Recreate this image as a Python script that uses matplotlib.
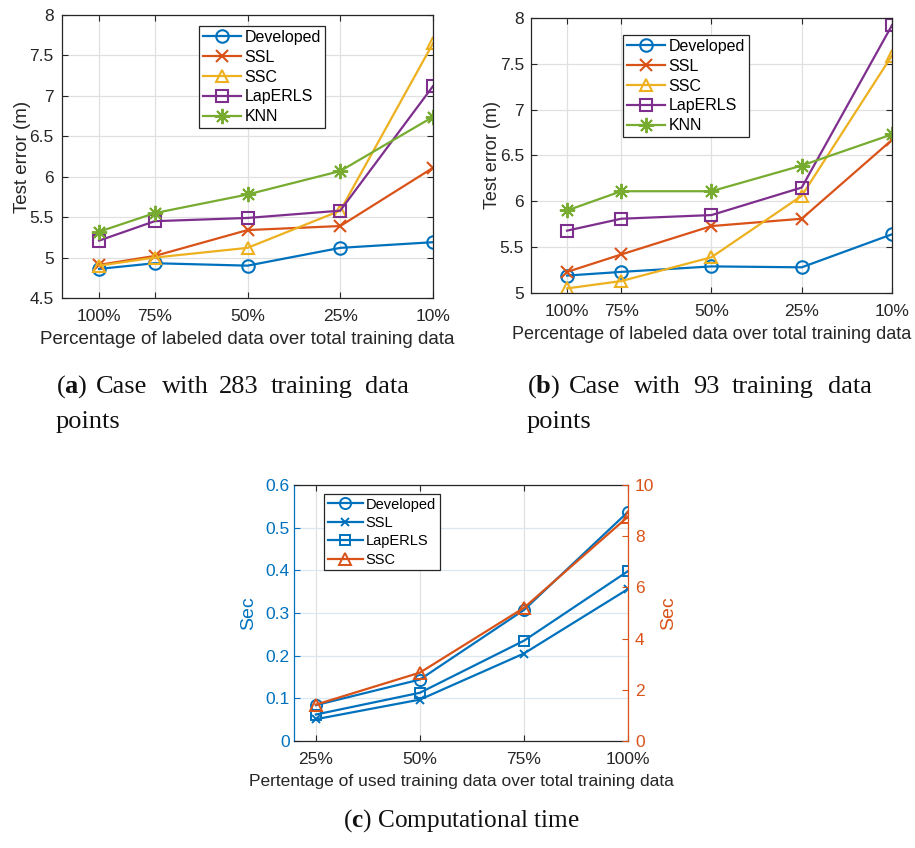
import matplotlib
matplotlib.use("Agg")
import matplotlib.pyplot as plt
from matplotlib.ticker import FuncFormatter

plt.rcParams['font.family'] = ['Liberation Sans', 'DejaVu Sans']
plt.rcParams['mathtext.fontset'] = 'custom'
plt.rcParams['mathtext.rm'] = 'Liberation Serif'
plt.rcParams['mathtext.bf'] = 'Liberation Serif:bold'

# ---- data ----
labels_ab = ['100%', '75%', '50%', '25%', '10%']
pos_ab = [0.4, 1, 2, 3, 4]

# (a) 283 training points
a_developed = [4.86, 4.93, 4.90, 5.12, 5.19]
a_ssl = [4.91, 5.02, 5.34, 5.39, 6.11]
a_ssc = [4.90, 5.00, 5.12, 5.58, 7.65]
a_laperls = [5.21, 5.45, 5.49, 5.58, 7.12]
a_knn = [5.32, 5.55, 5.78, 6.07, 6.74]

# (b) 93 training points
b_developed = [5.19, 5.23, 5.29, 5.28, 5.64]
b_ssl = [5.23, 5.42, 5.73, 5.81, 6.67]
b_ssc = [5.05, 5.13, 5.39, 6.06, 7.59]
b_laperls = [5.68, 5.81, 5.85, 6.15, 7.92]
b_knn = [5.90, 6.11, 6.11, 6.39, 6.73]

# (c) computational time
labels_c = ['25%', '50%', '75%', '100%']
pos_c = [1, 2, 3, 4]
c_developed = [0.084, 0.144, 0.307, 0.537]
c_ssl = [0.051, 0.097, 0.205, 0.356]
c_laperls = [0.062, 0.113, 0.235, 0.398]
c_ssc = [1.42, 2.67, 5.20, 8.76]  # right axis

BLUE = '#0072BD'
ORANGE = '#D95319'
YELLOW = '#EDB120'
PURPLE = '#7E2F8E'
GREEN = '#77AC30'
DARK = '#262626'
GRID = '#e0e0e0'
ASTER = (8, 2, 0)  # matlab-like '*'

fmt = FuncFormatter(lambda v, p: '%g' % round(v, 3))

fig = plt.figure(figsize=(9.15, 8.48), dpi=100)


def style_axes(ax):
    for s in ax.spines.values():
        s.set_color(DARK)
        s.set_linewidth(0.9)
    ax.tick_params(direction='in', length=4, width=0.8, colors=DARK,
                   labelsize=12.5, top=True, right=True, labelcolor=DARK)
    ax.tick_params(axis='x', pad=8)
    ax.tick_params(axis='y', pad=6)
    ax.grid(True, color=GRID, linewidth=0.9)
    ax.set_axisbelow(True)


def error_panel(rect, dev, ssl, ssc, lap, knn, ylim, yticks, leg_xy, lab_fs, ylab_pad, ytick_pad=6):
    ax = fig.add_axes(rect)
    style_axes(ax)
    ax.tick_params(axis='y', pad=ytick_pad)
    kw = dict(linewidth=1.6, markersize=9, markerfacecolor='none', markeredgewidth=1.5)
    ax.plot(pos_ab, dev, '-o', color=BLUE, label='Developed', **kw)
    ax.plot(pos_ab, ssl, '-x', color=ORANGE, label='SSL', **kw)
    ax.plot(pos_ab, ssc, '-^', color=YELLOW, label='SSC', **kw)
    ax.plot(pos_ab, lap, '-s', color=PURPLE, label='LapERLS', **{**kw, 'markersize': 8})
    ax.plot(pos_ab, knn, '-', marker=ASTER, color=GREEN, label='KNN',
            **{**kw, 'markersize': 11, 'markeredgewidth': 1.4})
    ax.set_xlim(0, 4)
    ax.set_ylim(*ylim)
    ax.set_xticks(pos_ab)
    ax.set_xticklabels(labels_ab)
    ax.set_yticks(yticks)
    ax.yaxis.set_major_formatter(fmt)
    ax.set_xlabel('Percentage of labeled data over total training data', fontsize=lab_fs, color=DARK, labelpad=5)
    ax.set_ylabel('Test error (m)', fontsize=lab_fs, color=DARK, labelpad=ylab_pad)
    leg = ax.legend(loc='upper left', bbox_to_anchor=leg_xy, borderaxespad=0,
                    fontsize=11.5, handlelength=2.4, handletextpad=0.2, labelspacing=0.3,
                    borderpad=0.25, fancybox=False, framealpha=1, edgecolor=DARK)
    leg.get_frame().set_linewidth(0.9)
    return ax


error_panel([0.0678, 0.6486, 0.4054, 0.3337], a_developed, a_ssl, a_ssc, a_laperls, a_knn,
            (4.5, 8), [4.5, 5, 5.5, 6, 6.5, 7, 7.5, 8], (0.369, 0.961), 13.5, -1)
error_panel([0.5803, 0.6545, 0.3945, 0.3243], b_developed, b_ssl, b_ssc, b_laperls, b_knn,
            (5, 8), [5, 5.5, 6, 6.5, 7, 7.5, 8], (0.255, 0.938), 13, -1, ytick_pad=5)

# panel c with two y axes
axc = fig.add_axes([0.3213, 0.1262, 0.3650, 0.3019])
style_axes(axc)
axc.tick_params(right=False)
axc.tick_params(axis='y', pad=3)
axc.yaxis.grid(True, color='#dbe7f1')
kw = dict(linewidth=1.6, markerfacecolor='none', markeredgewidth=1.4)
l1, = axc.plot(pos_c, c_developed, '-o', color=BLUE, markersize=8, label='Developed', **kw)
l2, = axc.plot(pos_c, c_ssl, '-x', color=BLUE, markersize=6, label='SSL', **kw)
l3, = axc.plot(pos_c, c_laperls, '-s', color=BLUE, markersize=7, label='LapERLS', **kw)
axc.set_xlim(0.79, 4)
axc.set_ylim(0, 0.6)
axc.set_xticks(pos_c)
axc.set_xticklabels(labels_c)
axc.set_yticks([0, 0.1, 0.2, 0.3, 0.4, 0.5, 0.6])
axc.yaxis.set_major_formatter(fmt)
axc.tick_params(axis='y', colors=BLUE, labelcolor=BLUE)
axc.spines['left'].set_color(BLUE)
axc.set_xlabel('Pertentage of used training data over total training data', fontsize=12.5, color=DARK, labelpad=5)
axc.set_ylabel('Sec', fontsize=14, color=BLUE, labelpad=6)

axr = axc.twinx()
l4, = axr.plot(pos_c, c_ssc, '-^', color=ORANGE, markersize=9, label='SSC', **kw)
axr.set_ylim(0, 10)
axr.set_yticks([0, 2, 4, 6, 8, 10])
axr.tick_params(axis='y', direction='in', length=4, width=0.8, colors=ORANGE,
                labelcolor=ORANGE, labelsize=12.5, pad=5)
for s in axr.spines.values():
    s.set_visible(False)
axr.spines['right'].set_visible(True)
axr.spines['right'].set_color(ORANGE)
axr.spines['right'].set_linewidth(0.9)
axc.spines['right'].set_visible(False)
axr.set_ylabel('Sec', fontsize=14, color=ORANGE, labelpad=4)
legc = axr.legend([l1, l2, l3, l4], ['Developed', 'SSL', 'LapERLS', 'SSC'],
                  loc='upper left', bbox_to_anchor=(0.09, 0.965), borderaxespad=0,
                  fontsize=10.5, handlelength=2.4, handletextpad=0.2, labelspacing=0.3,
                  borderpad=0.25, fancybox=False, framealpha=1, edgecolor=DARK)
legc.get_frame().set_linewidth(0.9)

# captions (word positions mimic justified text)
W, H = 915.0, 848.0
cap_kw = dict(fontsize=19, family='Liberation Serif', va='baseline', ha='left', color='#111111')


def words(items, y, fs=19):
    for x, t in items:
        fig.text(x / W, 1 - y / H, t, **{**cap_kw, 'fontsize': fs})


words([(56, r'($\mathbf{a}$)'), (96, 'Case'), (162, 'with'), (219, '283'),
       (271, 'training'), (365, 'data')], 393)
words([(56, 'points')], 428)
words([(527, r'($\mathbf{b}$)'), (569, 'Case'), (634, 'with'), (693, '93'),
       (732, 'training'), (828, 'data')], 393)
words([(527, 'points')], 428)
words([(343, r'($\mathbf{c}$) Computational time')], 827, fs=18.2)

fig.savefig('out.png', dpi=100)
